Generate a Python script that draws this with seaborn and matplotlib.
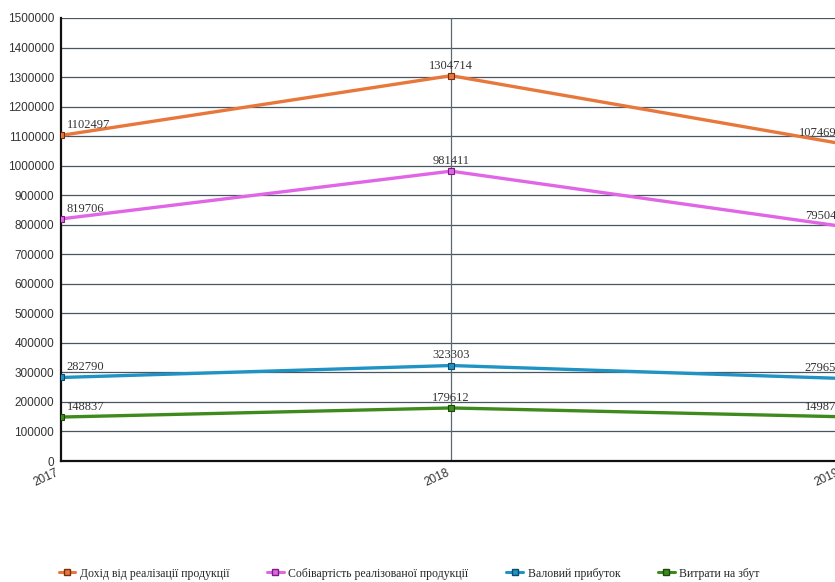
import numpy as np
import pandas as pd
import matplotlib
matplotlib.use("Agg")
import matplotlib.pyplot as plt
import seaborn as sns

# ---- data ----
years = [2017, 2018, 2019]
series_names = [
    "Дохід від реалізації продукції",
    "Собівартість реалізованої продукції",
    "Валовий прибуток",
    "Витрати на збут",
]
revenue = [1102497, 1304714, 1074690]
cost = [819706, 981411, 795040]
gross_profit = [282790, 323303, 279650]
selling_costs = [148837, 179612, 149870]
series_colors = ["#e8773c", "#e066e6", "#1f93c4", "#3e8a1c"]
edge_colors = ["#7a2e10", "#7a1e80", "#0e4a6a", "#1c4a0a"]

values = [revenue, cost, gross_profit, selling_costs]
df = pd.DataFrame({
    "year": years * len(series_names),
    "value": sum(values, []),
    "series": [name for name in series_names for _ in years],
})

sns.set_style("white")
plt.rcParams["font.family"] = ["Liberation Sans", "DejaVu Sans"]
serif = ["Liberation Serif", "DejaVu Serif"]

fig = plt.figure(figsize=(8.35, 5.82), dpi=100)
# plot area runs past the right edge, as in the reference (2019 is clipped)
ax = fig.add_axes([61 / 835, 121 / 582, 780 / 835, 443 / 582])

palette = dict(zip(series_names, series_colors))
sns.lineplot(data=df, x="year", y="value", hue="series", palette=palette,
             marker="s", markersize=5, linewidth=2.4, ax=ax, legend=False,
             zorder=3)
for line, ec in zip(ax.get_lines(), edge_colors):
    line.set_markeredgecolor(ec)
    line.set_markeredgewidth(0.8)

ax.set_xlim(2017, 2019)
ax.set_ylim(0, 1500000)
ax.set_yticks(np.arange(0, 1500001, 100000))
ax.set_yticklabels([str(v) for v in range(0, 1500001, 100000)],
                   fontsize=8.5, color="#333333")
ax.set_xticks(years)
ax.set_xticklabels([str(y) for y in years], rotation=25, ha="right",
                   fontsize=8.5, color="#333333")
ax.tick_params(axis="y", length=4, width=1, color="#333333", pad=1)
ax.tick_params(axis="x", length=4, width=1, color="#333333", pad=0)
ax.set_xlabel("")
ax.set_ylabel("")

# horizontal grid, single vertical line at 2018
for yv in range(100000, 1500001, 100000):
    ax.axhline(yv, color="#4a5560", linewidth=0.9, zorder=1)
ax.axvline(2018, color="#5a6a70", linewidth=0.9, zorder=1)

for side in ["top", "right"]:
    ax.spines[side].set_visible(False)
for side in ["left", "bottom"]:
    ax.spines[side].set_color("#111111")
    ax.spines[side].set_linewidth(1.6)

# value labels
for vals in values:
    ax.annotate(str(vals[0]), (years[0], vals[0]), xytext=(4, 3),
                textcoords="offset points", ha="left", va="bottom",
                fontsize=9, color="#333333", family=serif)
    ax.annotate(str(vals[1]), (years[1], vals[1]), xytext=(0, 3),
                textcoords="offset points", ha="center", va="bottom",
                fontsize=9, color="#333333", family=serif)
    ax.annotate(str(vals[2]), (years[2], vals[2]), xytext=(1, 3),
                textcoords="offset points", ha="right", va="bottom",
                fontsize=9, color="#333333", family=serif)

# legend at the bottom
handles = [plt.Line2D([], [], color=c, marker="s", markersize=5,
                      markeredgecolor=ec, linewidth=2.2)
           for c, ec in zip(series_colors, edge_colors)]
fig.legend(handles, series_names, loc="lower center", ncol=4,
           bbox_to_anchor=(0.49, -0.014), frameon=False, handlelength=1.4,
           handletextpad=0.4, columnspacing=3.2,
           prop={"family": serif, "size": 8.5})

fig.savefig("out.png", dpi=100)
